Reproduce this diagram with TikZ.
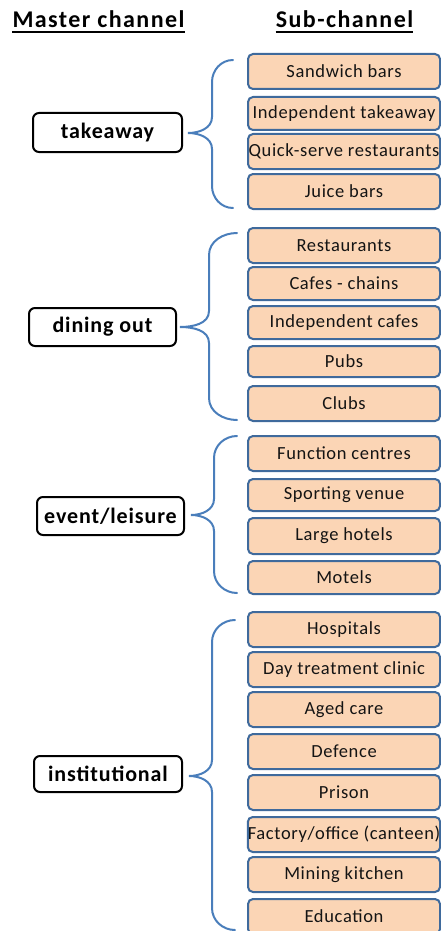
\documentclass[tikz,border=0pt]{standalone}
\usepackage{fontspec}
\setmainfont{Carlito}
\newfontfamily\chanfont[LetterSpace=6]{Carlito}
\newfontfamily\subfont[LetterSpace=3.5]{Carlito}
\newfontfamily\masterfont[LetterSpace=4]{Carlito}
\usetikzlibrary{calc}
\definecolor{subfill}{HTML}{FBD5B5}
\definecolor{subline}{HTML}{3F6A9C}
\definecolor{bracecol}{HTML}{4A7EBB}
\definecolor{inkcol}{HTML}{141414}
\tikzset{
  subbox/.style={draw=subline, fill=subfill, line width=2pt, rounded corners=5pt,
    minimum width=192pt, inner sep=0pt, anchor=center, text=inkcol,
    font=\subfont\fontsize{18.5}{21}\selectfont},
  master/.style={draw=black, fill=white, line width=2pt, rounded corners=6pt,
    inner sep=0pt, anchor=center, text=black,
    font=\masterfont\bfseries\fontsize{22}{25}\selectfont},
  header/.style={anchor=base, inner sep=0pt, text=black,
    font=\chanfont\bfseries\fontsize{24}{28}\selectfont},
  chbrace/.style={draw=bracecol, line width=2pt, line cap=round}
}
% sub-channel box: name, top, bottom, text
\newcommand\subch[4]{%
  \node[subbox, minimum height={(#3-#2)*1pt}] (#1) at (344,{(#2+#3)/2}) {#4};}
% curly brace: name prefix, tip x, tip y, stem x, end x, top y, bottom y
\newcommand\chbr[7]{%
  \coordinate (#1tip) at (#2,#3);
  \coordinate (#1top) at (#5,#6);
  \coordinate (#1bot) at (#5,#7);
  \draw[chbrace] (#1top) to[out=180,in=90] (#4,#6+22) -- (#4,#3-16)
    to[out=-90,in=0] (#1tip) to[out=0,in=90] (#4,#3+16) -- (#4,#7-22)
    to[out=-90,in=180] (#1bot);}
\begin{document}
\begin{tikzpicture}[x=1pt,y=-1pt]
\useasboundingbox (0,0) rectangle (441,931);

% column headings, underlined
\node[header] (hmaster) at (98.5,28) {Master channel};
\node[header] (hsub) at (344.5,28) {Sub-channel};
\draw[line width=1.8pt] ($(hmaster.base west)+(0,4)$) -- ($(hmaster.base east)+(0,4)$);
\draw[line width=1.8pt] ($(hsub.base west)+(0,4)$) -- ($(hsub.base east)+(0,4)$);

% takeaway
\chbr{b1}{188}{133}{212}{233}{60}{208}
\node[master, minimum width=149pt, minimum height=39pt] (takeaway) at (107.5,132.5) {takeaway};
\subch{s11}{54}{89}{Sandwich bars}
\subch{s12}{97}{130}{Independent takeaway}
\subch{s13}{134}{169}{Quick-serve restaurants}
\subch{s14}{174}{209}{Juice bars}

% dining out
\chbr{b2}{180}{327}{209}{237}{233}{420}
\node[master, minimum width=147pt, minimum height=38pt] (dining) at (102.5,327) {dining out};
\subch{s21}{228}{263}{Restaurants}
\subch{s22}{267}{300}{Cafes - chains}
\subch{s23}{306}{339}{Independent cafes}
\subch{s24}{346}{377}{Pubs}
\subch{s25}{386}{421}{Clubs}

% event/leisure
\chbr{b3}{191}{515}{214}{237}{436}{593}
\node[master, minimum width=147pt, minimum height=38pt] (event) at (110.5,516) {event/leisure};
\subch{s31}{436}{471}{Function centres}
\subch{s32}{479}{511}{Sporting venue}
\subch{s33}{518}{554}{Large hotels}
\subch{s34}{561}{594}{Motels}

% institutional
\chbr{b4}{189}{776}{212}{235}{620}{930}
\node[master, minimum width=148pt, minimum height=36pt] (inst) at (108,774) {institutional};
\subch{s41}{612}{647}{Hospitals}
\subch{s42}{652}{687}{Day treatment clinic}
\subch{s43}{692}{727}{Aged care}
\subch{s44}{734}{769}{Defence}
\subch{s45}{775}{810}{Prison}
\subch{s46}{817}{852}{Factory/office (canteen)}
\subch{s47}{857}{892}{Mining kitchen}
\subch{s48}{899}{934}{Education}
\end{tikzpicture}
\end{document}
